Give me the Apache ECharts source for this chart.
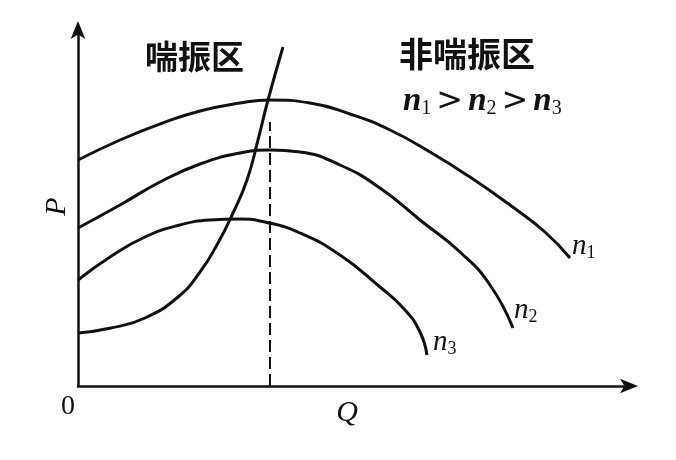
<!DOCTYPE html>
<html>
<head>
<meta charset="utf-8">
<script src="https://cdn.jsdelivr.net/npm/echarts@6/dist/echarts.min.js"></script>
<style>html,body{margin:0;padding:0;background:#fff}#c{width:676px;height:460px}</style>
</head>
<body>
<div id="c"></div>
<script>
// Curves (Q, P in arbitrary units)
const n1Data = [[0,226],[42,246],[82,262],[122,275],[162,283],[192,286],[232,283],[272,272],[312,256],[352,234],[392,209],[432,181],[467,154],[492,128]];
const n2Data = [[0,158],[42,181],[82,204],[122,222],[162,233],[192,236],[222,234],[262,221],[302,198],[342,166],[382,134],[412,101],[435,58]];
const n3Data = [[0,106],[32,129],[67,149],[102,161],[132,166],[162,167],[187,164],[222,153],[262,131],[302,99],[327,76],[342,54],[349,31]];
const surgeData = [[0,53],[33,58],[67,68],[100,89],[122,114],[140,143],[155,173],[169,206],[180,246],[190,286],[205,339]];
const dashX = 192, dashTop = 264;
const seriesNames = ['n1','n2','n3'];
const subs = ['1','2','3'];
const regionLabels = ['喘振区','非喘振区'];
const axisNames = ['Q','P'];
const originLabel = '0';

const serif = '"Liberation Serif","DejaVu Serif",serif';
const cjk = '"Noto Sans CJK SC","Noto Sans",sans-serif';
const ink = '#111';

function endLab(sub, offset){
  return {show:true, offset:offset, distance:2,
    formatter:'{n|n}{s|' + sub + '}',
    rich:{n:{fontFamily:serif,fontStyle:'italic',fontSize:29,color:ink},
          s:{fontFamily:serif,fontSize:18,color:ink,verticalAlign:'bottom',padding:[14,0,0,0]}}};
}
const lineStyle = {color:ink, width:3};
const common = {type:'line', smooth:0.5, symbol:'none', showSymbol:false, lineStyle:lineStyle};
const chart = echarts.init(document.getElementById('c'));
chart.setOption({
  animation:false,
  backgroundColor:'#fff',
  grid:{left:78, top:27, width:554, height:359},
  xAxis:{type:'value', min:0, max:554, name:axisNames[0], nameLocation:'middle', nameGap:12,
    nameTextStyle:{fontFamily:serif, fontStyle:'italic', fontSize:30, color:ink, padding:[0,16,0,0]},
    axisLine:{lineStyle:{color:ink,width:2.5}, symbol:['none','arrow'], symbolSize:[11,18], symbolOffset:[0,6]},
    axisTick:{show:false}, axisLabel:{show:false}, splitLine:{show:false}},
  yAxis:{type:'value', min:0, max:359, name:axisNames[1], nameLocation:'middle', nameGap:6, nameRotate:90,
    nameTextStyle:{fontFamily:serif, fontStyle:'italic', fontSize:30, color:ink},
    axisLine:{lineStyle:{color:ink,width:2.5}, symbol:['none','arrow'], symbolSize:[11,18], symbolOffset:[0,6]},
    axisTick:{show:false}, axisLabel:{show:false}, splitLine:{show:false}},
  graphic:[
    {type:'text', left:61, top:393, style:{text:originLabel, font:'28px '+serif, fill:ink}},
    {type:'text', left:145, top:40, style:{text:regionLabels[0], font:'bold 33px '+cjk, fill:ink}},
    {type:'text', left:399, top:37, style:{text:regionLabels[1], font:'bold 34px '+cjk, fill:ink}},
    {type:'text', left:403, top:85, style:{
      text:'{n|n}{s|1}{g|>}{n|n}{s|2}{g|>}{n|n}{s|3}',
      rich:{n:{fontFamily:serif,fontStyle:'italic',fontWeight:'bold',fontSize:33,fill:ink},
            s:{fontFamily:serif,fontSize:20,fill:ink,verticalAlign:'bottom',padding:[14,0,0,0]},
            g:{fontFamily:'"DejaVu Sans",sans-serif',fontSize:32,fill:ink,padding:[0,5,0,5]}}}}
  ],
  series:[
    Object.assign({name:seriesNames[0], data:n1Data, endLabel:endLab(subs[0],[0,-12])}, common),
    Object.assign({name:seriesNames[1], data:n2Data, endLabel:endLab(subs[1],[-1,-18])}, common),
    Object.assign({name:seriesNames[2], data:n3Data, endLabel:endLab(subs[2],[4,-13])}, common),
    Object.assign({name:'surge', data:surgeData,
      markLine:{silent:true, symbol:['none','none'], label:{show:false},
        lineStyle:{color:ink, width:2, type:[12,5]},
        data:[[{coord:[dashX,0]},{coord:[dashX,dashTop]}]]}}, common)
  ]
});
</script>
</body>
</html>
